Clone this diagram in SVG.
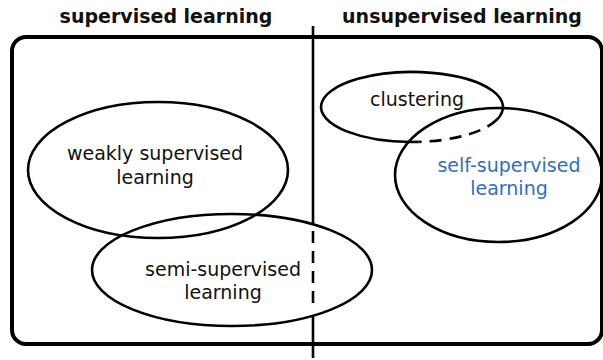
<svg xmlns="http://www.w3.org/2000/svg" width="603" height="360" viewBox="0 0 603 360">
<style>
text{font-family:"DejaVu Sans","Noto Sans",sans-serif;font-size:19px;text-anchor:middle;fill:#111}
.title{font-weight:bold}
.blue{fill:#2f6fbf}
.e{fill:none;stroke:#000;stroke-width:2.6}
.dash{stroke-dasharray:12 8}
</style>
<rect width="603" height="360" fill="#fff"/>
<g id="frame">
<rect x="12" y="37" width="590" height="307" rx="14" fill="none" stroke="#000" stroke-width="4"/>
<text class="title" x="166" y="23">supervised learning</text>
<text class="title" x="462" y="23">unsupervised learning</text>
</g>
<g id="connectors">
<line x1="313" y1="26" x2="313" y2="225" stroke="#000" stroke-width="2.6"/>
<line x1="313" y1="231" x2="313" y2="307" stroke="#000" stroke-width="2.6" class="dash"/>
<line x1="313" y1="315" x2="313" y2="358" stroke="#000" stroke-width="2.6"/>
</g>
<g id="weakly">
<ellipse class="e" cx="158" cy="170" rx="130" ry="68"/>
<text x="155" y="160">weakly supervised</text>
<text x="155" y="184">learning</text>
</g>
<g id="semi">
<ellipse class="e" cx="232" cy="270" rx="140" ry="56"/>
<text x="223" y="276">semi-supervised</text>
<text x="223" y="299">learning</text>
</g>
<g id="clustering">
<path class="e" d="M418.3 141.9 A91 35 0 1 1 497 119.5"/>
<path class="e dash" d="M497 119.5 A91 35 0 0 1 418.3 141.9"/>
<text x="417" y="106">clustering</text>
</g>
<g id="self">
<ellipse class="e" cx="498.5" cy="175" rx="103.5" ry="67" stroke-width="3.8"/>
<text class="blue" x="509" y="172">self-supervised</text>
<text class="blue" x="509" y="195">learning</text>
</g>
</svg>
